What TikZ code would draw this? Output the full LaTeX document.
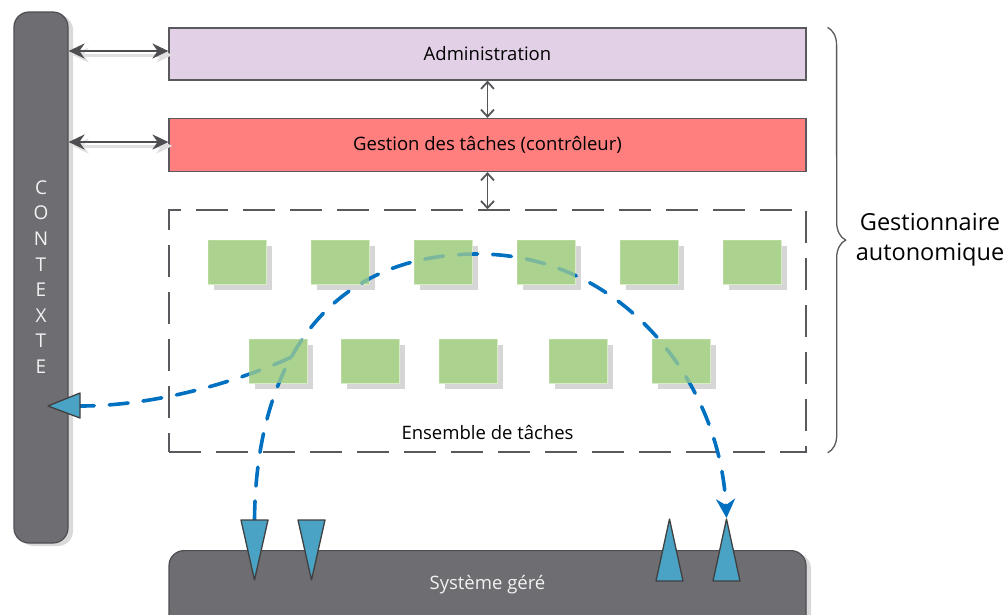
\documentclass[tikz,border=0pt]{standalone}
\usepackage{fontspec}
\setmainfont{Open Sans}
\usetikzlibrary{arrows.meta,shadows,decorations.pathreplacing}

\definecolor{barfill}{HTML}{6E6D72}
\definecolor{barline}{HTML}{4E4D52}
\definecolor{adminfill}{HTML}{E1D0E6}
\definecolor{ctrlfill}{HTML}{FF7F7F}
\definecolor{boxline}{HTML}{5A5A5E}
\definecolor{taskfill}{HTML}{ABD38F}
\definecolor{taskline}{HTML}{D8ECC8}
\definecolor{sensfill}{HTML}{4AA3C4}
\definecolor{flowblue}{HTML}{0070C0}

\tikzset{
	bar/.style={draw=barline, line width=1.2pt, fill=barfill, rounded corners=15pt,
		drop shadow={shadow xshift=5pt, shadow yshift=-3pt, fill=black!15, opacity=1}},
	layer/.style={draw=boxline, line width=1.2pt, minimum width=637pt, minimum height=52pt},
	task/.style={draw=taskline, line width=.8pt, fill=taskfill, minimum width=58pt, minimum height=44pt,
		drop shadow={shadow xshift=6pt, shadow yshift=-6pt, fill=black!16, opacity=1}},
	link/.style={draw=barline, line width=2pt, {Stealth[length=16pt,width=15pt]}-{Stealth[length=16pt,width=15pt]},
		preaction={draw=black!12, line width=3pt, transform canvas={shift={(4pt,-4pt)}}}},
	updown/.style={draw=boxline!95!black, line width=1.8pt, {Straight Barb[length=7pt,width=13pt]}-{Straight Barb[length=7pt,width=13pt]}},
	flow/.style={draw=flowblue, line width=3.6pt, dash pattern=on 19pt off 15pt, line cap=round},
	sensor/.style={draw=black!75, fill=sensfill, line width=1.3pt, line join=round},
	lbl/.style={font=\fontsize{18.5}{22}\selectfont},
}

\begin{document}
\begin{tikzpicture}[x=1pt,y=-1pt]
	\path[use as bounding box, fill=white] (0,0) rectangle (1005,614);

	\node[bar, minimum width=54pt, minimum height=531pt] (ctx) at (41,277.5) {};
	\node[text=black!5, align=center, font=\fontsize{19}{25.6}\selectfont] (ctxt) at (41,277) {C\\O\\N\\T\\E\\X\\T\\E};
	\node[bar, minimum width=637pt, minimum height=100pt, anchor=north] (sys) at (487.5,550) {};
	\node[lbl, text=black!5] (syst) at (487.5,585) {Système géré};

	\node[layer, lbl, fill=adminfill] (ad) at (487.5,54) {Administration};
	\node[layer, lbl, fill=ctrlfill, minimum height=53pt] (gt) at (487.5,145) {Gestion des tâches (contrôleur)};
	\node[draw=boxline, line width=1.5pt, dash pattern=on 32pt off 15pt, minimum width=637pt, minimum height=242pt] (ens) at (487.5,331) {};
	\node[lbl] (enst) at (487.5,432) {Ensemble de tâches};

	\draw[link] ([yshift=3pt]ad.west -| ctx.east) -- ([yshift=3pt]ad.west);
	\draw[link] ([yshift=3pt]gt.west -| ctx.east) -- ([yshift=3pt]gt.west);
	\draw[updown] (ad) -- (gt);
	\draw[updown] (gt) -- (ens);

	\draw[boxline, line width=1.3pt, decorate, decoration={brace, amplitude=18pt}]
		([xshift=21pt]ad.north east) -- ([xshift=21pt]ens.south east);
	\node[align=center, font=\fontsize{23.5}{30}\selectfont] (gest) at (930,240) {Gestionnaire\\autonomique};

	\foreach \x [count=\i] in {237,340,443,546,649,752} \node[task] (t\i) at (\x,262) {};
	\foreach \x [count=\i] in {278,370,468,578,681} \node[task] (u\i) at (\x,361) {};

	\coordinate (in1) at (254.5,520); \coordinate (top) at (478,254);
	\coordinate (out2) at (726.5,518); \coordinate (cin) at (80,406);
	\draw[flow, -{Stealth[length=19pt,width=19pt,inset=6pt]}] (in1) .. controls (256,360) and (330,254) .. (top) coordinate[pos=.4] (br)
		.. controls (620,254) and (720,380) .. (out2);
	\draw[flow] (br) .. controls (230,385) and (150,406) .. (cin);

	\foreach \n in {t1,t2,t3,t4,t5,t6,u1,u2,u3,u4,u5}
		\fill[taskfill, opacity=.72] (\n.north west) rectangle (\n.south east);

	\draw[sensor] (cin |- 0,393) -- (cin |- 0,418) -- (48,406) -- cycle;
	\foreach \x in {254.5,311.5} \draw[sensor] (\x-13.5,520) -- (\x+13.5,520) -- (\x,580) -- cycle;
	\foreach \x in {669.5,726.5} \draw[sensor] (\x-13.5,581) -- (\x+13.5,581) -- (\x,519) -- cycle;
\end{tikzpicture}
\end{document}
